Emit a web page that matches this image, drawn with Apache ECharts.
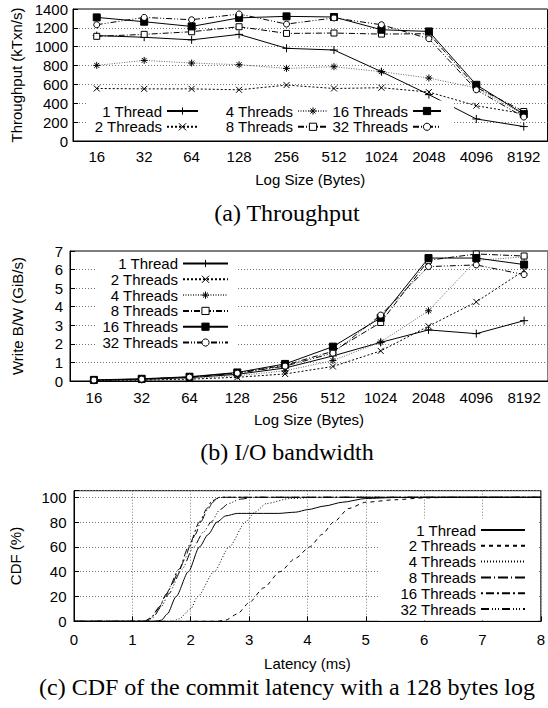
<!DOCTYPE html>
<html>
<head>
<meta charset="utf-8">
<script src="https://cdn.jsdelivr.net/npm/echarts@6/dist/echarts.min.js"></script>
<style>
html,body{margin:0;padding:0;background:#fff;}
#c{width:548px;height:708px;}
</style>
</head>
<body>
<div id="c"></div>
<script>
// ---------- data ----------
const categories = ['16','32','64','128','256','512','1024','2048','4096','8192'];
const threadNames = ['1 Thread','2 Threads','4 Threads','8 Threads','16 Threads','32 Threads'];

// (a) Throughput (kTxn/s)
const tput1  = [1118, 1100, 1073, 1131, 983, 965, 735, 492, 234, 153];
const tput2  = [557, 553, 553, 543, 593, 557, 565, 519, 374, 290];
const tput4  = [802, 855, 827, 809, 770, 788, 735, 668, 562, 280];
const tput8  = [1110, 1131, 1159, 1212, 1141, 1145, 1134, 1138, 570, 313];
const tput16 = [1311, 1265, 1215, 1306, 1322, 1315, 1180, 1162, 596, 285];
const tput32 = [1233, 1311, 1286, 1347, 1240, 1305, 1233, 1085, 543, 254];

// (b) Write bandwidth (GiB/s)
const bw1  = [0.04, 0.09, 0.18, 0.36, 0.70, 1.35, 2.08, 2.75, 2.55, 3.25];
const bw2  = [0.02, 0.05, 0.10, 0.20, 0.38, 0.78, 1.62, 2.95, 4.26, 5.95];
const bw4  = [0.03, 0.07, 0.14, 0.28, 0.55, 1.10, 2.10, 3.78, 6.50, 6.68];
const bw8  = [0.05, 0.10, 0.21, 0.43, 0.85, 1.60, 3.15, 6.50, 6.84, 6.73];
const bw16 = [0.06, 0.12, 0.23, 0.46, 0.92, 1.85, 3.40, 6.62, 6.62, 6.27];
const bw32 = [0.05, 0.10, 0.21, 0.42, 0.80, 1.50, 3.55, 6.16, 6.25, 5.73];

// (c) CDF of commit latency: [latency ms, CDF %]
const cdf1  = [[0,0],[1.4,0],[1.5,1],[1.6,6],[1.75,20],[1.96,40],[2.15,60],[2.3,70],[2.45,80],[2.6,85],[2.8,87],[3.5,87],[3.8,88],[4.0,90],[4.3,93],[4.6,96],[5.0,99],[5.5,99.8],[6,100],[8,100]];
const cdf2  = [[0,0],[2.45,0],[2.6,1],[2.8,6],[3.0,15],[3.25,27],[3.53,40],[3.8,51],[4.04,60],[4.25,70],[4.45,80],[4.71,91],[5.0,96],[5.5,98],[6,99.5],[6.5,100],[8,100]];
const cdf4  = [[0,0],[1.7,0],[1.8,2],[2.0,10],[2.12,20],[2.4,40],[2.66,60],[2.94,80],[3.1,88],[3.3,95],[3.7,99],[4.2,100],[8,100]];
const cdf8  = [[0,0],[1.2,0],[1.3,2],[1.45,10],[1.56,20],[1.68,30],[1.79,40],[1.9,50],[1.98,60],[2.08,70],[2.17,80],[2.29,90],[2.38,96],[2.45,99],[2.55,100],[8,100]];
const cdf16 = [[0,0],[1.22,0],[1.32,3],[1.47,12],[1.58,22],[1.8,42],[1.97,61],[2.15,80],[2.28,91],[2.36,97],[2.5,100],[8,100]];
const cdf32 = [[0,0],[1.25,0],[1.35,3],[1.5,12],[1.62,22],[1.85,42],[2.05,60],[2.22,72],[2.35,80],[2.5,90],[2.65,95],[2.85,98.5],[3.1,100],[8,100]];

const tputTicks = {min: 0, max: 1400, interval: 200};
const bwTicks = {min: 0, max: 7, interval: 1};
const latTicks = {min: 0, max: 8, interval: 1};
const cdfTicks = {min: 0, max: 105.3, interval: 20};

// ---------- styling ----------
const SANS = 'Liberation Sans';
const SERIF = 'Liberation Serif';
const plusPath = 'M0,5L10,5M5,0L5,10';
const crossPath = 'M1,1L9,9M9,1L1,9';
const starPath = 'M0,5L10,5M5,0L5,10M1.5,1.5L8.5,8.5M8.5,1.5L1.5,8.5';
const markStyles = [
  {line:'solid', lc:'#000', sym:'path://' + plusPath, size:8, fill:'#000'},
  {line:[2,2], lc:'#000', sym:'path://' + crossPath, size:6, fill:'#000'},
  {line:[1,1.5], lc:'#666', sym:'path://' + starPath, size:7, fill:'#000'},
  {line:[6,2,1,2], lc:'#000', sym:'rect', size:6, fill:'#fff'},
  {line:'solid', lc:'#000', sym:'rect', size:7, fill:'#000'},
  {line:[6,2,1,2,1,2], lc:'#000', sym:'circle', size:6, fill:'#fff'}
];
const cdfStyles = ['solid', [4,4], [1,2], [10,3,1,3], [2,3,8,3], [8,3,1,2,1,2,1,3]];

const txt = {fontSize: 15, fontFamily: SANS, color: '#000'};
const gridLine = {show: true, lineStyle: {color: '#777', type: [1,2], width: 1}};
const plain = v => String(v);

function catAxis(gi, margin) {
  return {
    type: 'category', gridIndex: gi, data: categories, boundaryGap: true,
    axisLine: {lineStyle: {color: '#000'}},
    axisTick: {inside: true, alignWithLabel: true, length: 5, lineStyle: {color: '#000'}},
    axisLabel: Object.assign({margin: margin}, txt),
    splitLine: {show: false},
    name: 'Log Size (Bytes)', nameLocation: 'middle', nameGap: 31, nameTextStyle: txt
  };
}
function valAxis(gi, ticks, name, nameGap, margin, fmt) {
  return {
    type: 'value', gridIndex: gi, min: ticks.min, max: ticks.max, interval: ticks.interval,
    axisLine: {show: true, lineStyle: {color: '#000'}},
    axisTick: {show: true, inside: true, length: 5, lineStyle: {color: '#000'}},
    axisLabel: Object.assign({margin: margin, formatter: fmt || plain}, txt),
    splitLine: gridLine,
    name: name, nameLocation: 'middle', nameGap: nameGap, nameTextStyle: txt
  };
}

const series = [];
const tputData = [tput1, tput2, tput4, tput8, tput16, tput32];
const bwData = [bw1, bw2, bw4, bw8, bw16, bw32];
const cdfData = [cdf1, cdf2, cdf4, cdf8, cdf16, cdf32];

function addMarked(prefix, gi, datasets) {
  datasets.forEach((d, i) => {
    const st = markStyles[i];
    series.push({
      name: prefix + '|' + threadNames[i], type: 'line', xAxisIndex: gi, yAxisIndex: gi,
      data: d, symbol: st.sym, symbolSize: st.size, showSymbol: true,
      lineStyle: {color: st.lc, width: 1, type: st.line},
      itemStyle: {color: st.fill, borderColor: '#000', borderWidth: 1},
      emphasis: {disabled: true}, z: 3
    });
  });
}
addMarked('a', 0, tputData);
addMarked('b', 1, bwData);
cdfData.forEach((d, i) => {
  series.push({
    name: 'c|' + threadNames[i], type: 'line', xAxisIndex: 2, yAxisIndex: 2,
    data: d, symbol: 'none', smooth: 0.25, smoothMonotone: 'x',
    lineStyle: {color: '#000', width: 1, type: cdfStyles[i]},
    itemStyle: {color: '#000'},
    emphasis: {disabled: true}, z: 3
  });
});

function legend(prefix, idxs, right, top, itemWidth, padding, itemStyle) {
  return {
    orient: 'vertical', align: 'right', right: right, top: top,
    itemWidth: itemWidth, itemHeight: 9, itemGap: 0.8, padding: padding,
    backgroundColor: '#fff', selectedMode: false,
    data: idxs.map(i => prefix + '|' + threadNames[i]),
    formatter: n => n.split('|')[1],
    itemStyle: itemStyle,
    textStyle: Object.assign({lineHeight: 15}, txt)
  };
}
const markLegendStyle = {borderWidth: 1, borderColor: '#000'};
const lineLegendStyle = {opacity: 0, color: 'transparent', borderColor: 'transparent', borderWidth: 0};

const option = {
  animation: false,
  backgroundColor: '#fff',
  grid: [
    {left: 73, top: 9, width: 474.5, height: 132, show: true, borderColor: '#000', borderWidth: 1},
    {left: 70, top: 251, width: 478, height: 130, show: true, borderColor: '#000', borderWidth: 1},
    {left: 70.6, top: 490.7, width: 475, height: 130.6, show: true, borderColor: '#000', borderWidth: 1}
  ],
  xAxis: [
    catAxis(0, 8),
    catAxis(1, 8.5),
    {
      type: 'value', gridIndex: 2, min: latTicks.min, max: latTicks.max, interval: latTicks.interval,
      axisLine: {lineStyle: {color: '#000'}},
      axisTick: {inside: true, length: 5, lineStyle: {color: '#000'}},
      axisLabel: Object.assign({margin: 10.5, formatter: plain}, txt),
      splitLine: gridLine,
      name: 'Latency (ms)', nameLocation: 'middle', nameGap: 34.5, nameTextStyle: txt
    }
  ],
  yAxis: [
    valAxis(0, tputTicks, 'Throughput (kTxn/s)', 46.5, 5),
    valAxis(1, bwTicks, 'Write B/W (GiB/s)', 45, 7),
    valAxis(2, cdfTicks, 'CDF (%)', 51, 7.5, v => (v % 20 === 0 ? String(v) : ''))
  ],
  legend: [
    legend('a', [0, 1], 548 - 213, 100.5, 31, [3, 14, 3, 8], markLegendStyle),
    legend('a', [2, 3], 548 - 332, 100.5, 30, [3, 3, 3, 14], markLegendStyle),
    legend('a', [4, 5], 548 - 454, 100.5, 28, [3, 12, 3, 2], markLegendStyle),
    legend('b', [0, 1, 2, 3, 4, 5], 548 - 238, 254, 45, [2, 9, 2, 6], markLegendStyle),
    legend('c', [0, 1, 2, 3, 4, 5], 548 - 538, 518.5, 44, [4, 12, 4, 21], lineLegendStyle)
  ],
  graphic: [
    {type: 'text', x: 287, y: 213, style: {text: '(a) Throughput', font: '24px "Liberation Serif"', fontSize: 24, fontFamily: SERIF, fill: '#000', align: 'center', verticalAlign: 'middle', textAlign: 'center', textVerticalAlign: 'middle'}},
    {type: 'text', x: 287, y: 452, style: {text: '(b) I/O bandwidth', font: '24px "Liberation Serif"', fontSize: 24, fontFamily: SERIF, fill: '#000', align: 'center', verticalAlign: 'middle', textAlign: 'center', textVerticalAlign: 'middle'}},
    {type: 'text', x: 287, y: 686.5, style: {text: '(c) CDF of the commit latency with a 128 bytes log', font: '24px "Liberation Serif"', fontSize: 24, fontFamily: SERIF, fill: '#000', align: 'center', verticalAlign: 'middle', textAlign: 'center', textVerticalAlign: 'middle'}}
  ],
  series: series
};

const chart = echarts.init(document.getElementById('c'), null, {renderer: 'svg', width: 548, height: 708});
chart.setOption(option);
</script>
</body>
</html>
